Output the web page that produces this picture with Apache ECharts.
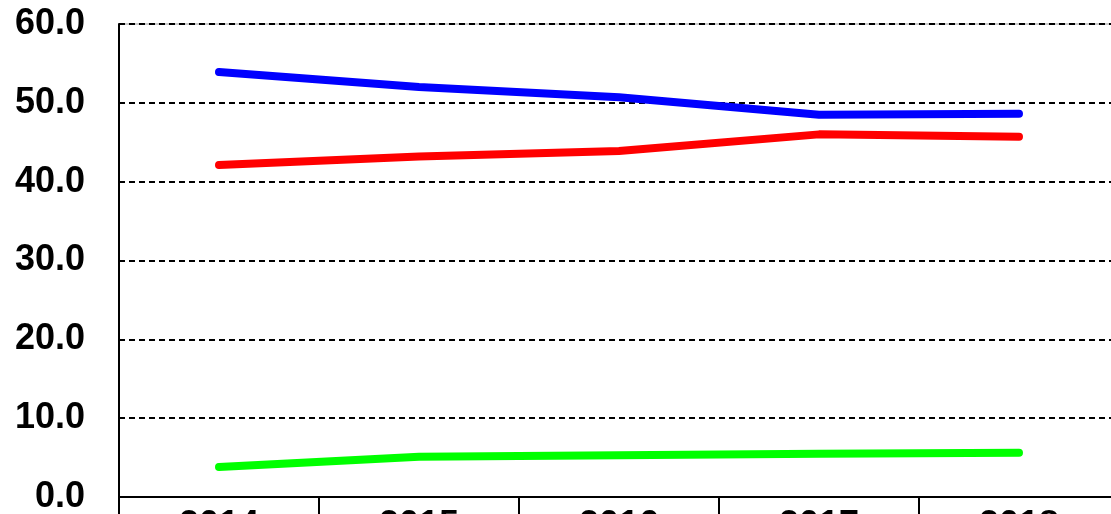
<!DOCTYPE html>
<html>
<head>
<meta charset="utf-8">
<style>
  html, body { margin: 0; padding: 0; background: #ffffff; }
  #chart { width: 1111px; height: 514px; }
</style>
<script src="https://cdn.jsdelivr.net/npm/echarts@6/dist/echarts.min.js"></script>
</head>
<body>
<div id="chart"></div>
<script>
// Years along the category axis
const years = ['2014', '2015', '2016', '2017', '2018'];

// Three yearly series (percent)
const blueSeries = [53.9, 52.0, 50.7, 48.5, 48.6];
const redSeries = [42.1, 43.2, 43.9, 46.0, 45.7];
const greenSeries = [3.8, 5.1, 5.3, 5.5, 5.6];

// Value axis range and step
const yMin = 0;
const yMax = 60;
const yStep = 10;

const labelFont = {
  fontFamily: '"Liberation Sans", Arial, sans-serif',
  fontWeight: 'bold',
  fontSize: 36,
  color: '#000000'
};

function lineSeries(name, data, color) {
  return {
    name: name,
    type: 'line',
    data: data,
    symbol: 'none',
    smooth: false,
    lineStyle: { color: color, width: 8, cap: 'round', join: 'round' },
    emphasis: { disabled: true }
  };
}

const chart = echarts.init(document.getElementById('chart'), null, { renderer: 'canvas' });
chart.setOption({
  animation: false,
  backgroundColor: '#ffffff',
  grid: {
    left: 119,
    top: 24,
    width: 1000,
    height: 473,
    containLabel: false,
    outerBoundsMode: 'none',
    show: true,
    borderColor: '#9a9a9a',
    borderWidth: 1,
    backgroundColor: 'transparent'
  },
  xAxis: {
    type: 'category',
    data: years,
    boundaryGap: true,
    axisLine: { show: true, lineStyle: { color: '#000000', width: 2 } },
    axisTick: { show: true, alignWithLabel: false, interval: 0, length: 22, lineStyle: { color: '#000000', width: 2 } },
    axisLabel: Object.assign({ margin: 11, interval: 0 }, labelFont),
    splitLine: { show: false }
  },
  yAxis: {
    type: 'value',
    min: yMin,
    max: yMax,
    interval: yStep,
    axisLine: { show: true, lineStyle: { color: '#000000', width: 2 } },
    axisTick: { show: false },
    axisLabel: Object.assign({
      margin: 34,
      formatter: function (v) { return v.toFixed(1); }
    }, labelFont),
    splitLine: { show: true, lineStyle: { color: '#000000', width: 2, type: [6, 4] } }
  },
  series: [
    lineSeries('blue', blueSeries, '#0000ff'),
    lineSeries('red', redSeries, '#ff0000'),
    lineSeries('green', greenSeries, '#00ff00')
  ]
});
</script>
</body>
</html>
